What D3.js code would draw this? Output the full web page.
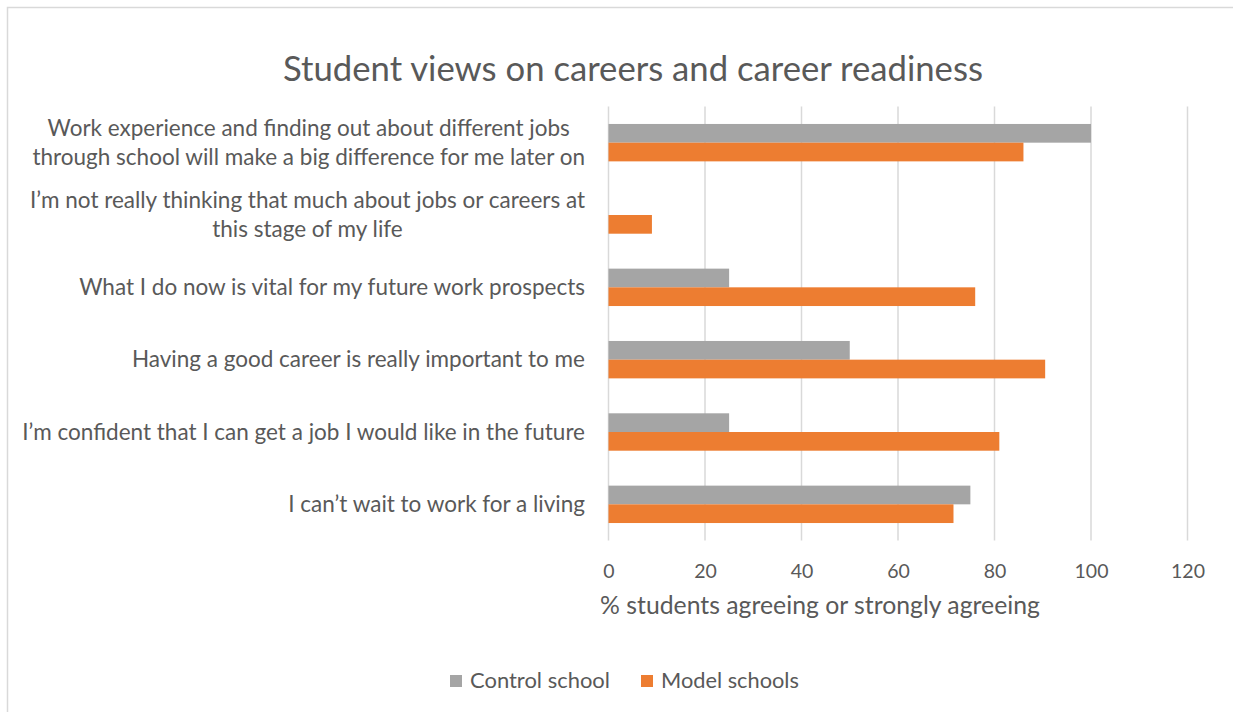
<!DOCTYPE html>
<html>
<head>
<meta charset="utf-8">
<script src="https://cdn.jsdelivr.net/npm/d3@7"></script>
<style>
  html, body { margin: 0; padding: 0; background: #fff; }
  svg { display: block; }
  text { font-family: Lato, "Open Sans", sans-serif; fill: #595959; }
</style>
</head>
<body>
<svg id="chart" width="1233" height="712"></svg>
<script>
// Survey statements (top to bottom); "\n" marks a line break in the label
const categories = [
  "Work experience and finding out about different jobs\nthrough school will make a big difference for me later on",
  "I’m not really thinking that much about jobs or careers at\nthis stage of my life",
  "What I do now is vital for my future work prospects",
  "Having a good career is really important to me",
  "I’m confident that I can get a job I would like in the future",
  "I can’t wait to work for a living"
];
const seriesNames = ["Control school", "Model schools"];
const controlValues = [100, 0, 25, 50, 25, 75];
const modelValues = [86, 9, 76, 90.5, 81, 71.5];
const xTicks = [0, 20, 40, 60, 80, 100, 120];
const colors = ["#a5a5a5", "#ed7d31"];

const titleText = "Student views on careers and career readiness";
const axisTitleText = "% students agreeing or strongly agreeing";

const svg = d3.select("#chart");

// Fit a text element's font size so its rendered width equals a target width
function fitWidth(sel, target) {
  const node = sel.node();
  const fs = parseFloat(sel.attr("font-size"));
  const w = node.getComputedTextLength();
  sel.attr("font-size", (fs * target / w).toFixed(2));
}

// Chart frame
svg.append("rect")
  .attr("x", 7.5).attr("y", 7.5)
  .attr("width", 1260).attr("height", 720)
  .attr("fill", "none").attr("stroke", "#d9d9d9").attr("stroke-width", 1.5);

const plot = { left: 608.5, right: 1187.5, top: 106.5, bottom: 540.5 };

const x = d3.scaleLinear().domain([0, 120]).range([plot.left, plot.right]);
const y = d3.scaleBand().domain(categories).range([plot.top, plot.bottom])
  .paddingInner(0.483).paddingOuter(0.2415);
const ySeries = d3.scaleBand().domain(seriesNames).range([0, y.bandwidth()]);

// Vertical gridlines
svg.append("g").selectAll("line").data(xTicks).join("line")
  .attr("x1", d => x(d)).attr("x2", d => x(d))
  .attr("y1", plot.top).attr("y2", plot.bottom)
  .attr("stroke", "#d9d9d9").attr("stroke-width", 1.5);

// Bars
const rows = categories.map((c, i) => ({ cat: c, vals: [controlValues[i], modelValues[i]] }));
const groups = svg.append("g").selectAll("g").data(rows).join("g")
  .attr("transform", d => `translate(0,${y(d.cat)})`);
groups.selectAll("rect")
  .data(d => d.vals.map((v, j) => ({ v, s: seriesNames[j], j })))
  .join("rect")
  .attr("x", x(0))
  .attr("y", d => ySeries(d.s))
  .attr("width", d => x(d.v) - x(0))
  .attr("height", ySeries.bandwidth())
  .attr("fill", d => colors[d.j])
  .attr("display", d => d.v > 0 ? null : "none");

// X axis tick labels
const xAxis = d3.axisBottom(x).tickValues(xTicks).tickSize(0).tickPadding(0);
const xg = svg.append("g").attr("transform", `translate(0,${plot.bottom})`).call(xAxis);
xg.select(".domain").remove();
xg.selectAll("text")
  .attr("y", 31).attr("dy", "0.35em")
  .attr("font-size", 19.5).attr("font-family", null)
  .style("fill", "#595959");

// Y axis category labels (multi-line, centred within a right-aligned block)
const labelRight = 585;
const lineGap = 29;
const labelSize = 19;
const labelG = svg.append("g");
const labels = labelG.selectAll("text").data(categories).join("text")
  .attr("font-size", labelSize)
  .attr("text-anchor", "middle")
  .attr("dominant-baseline", "central");
labels.each(function (c) {
  const t = d3.select(this);
  const lines = c.split("\n");
  const cy = y(c) + y.bandwidth() / 2 - 1.5;
  lines.forEach((ln, k) => {
    t.append("tspan").text(ln)
      .attr("y", cy + (k - (lines.length - 1) / 2) * lineGap);
  });
});
// Scale the label font so the longest line spans the reference width
const probe = labelG.append("text").attr("font-size", labelSize).text(categories[4]);
fitWidth(probe, 563);
const fittedSize = probe.attr("font-size");
probe.remove();
labels.attr("font-size", fittedSize);
labels.each(function () {
  const t = d3.select(this);
  let maxW = 0;
  t.selectAll("tspan").each(function () {
    maxW = Math.max(maxW, this.getComputedTextLength());
  });
  t.selectAll("tspan").attr("x", labelRight - maxW / 2);
});

// Chart title
const title = svg.append("text")
  .attr("x", 633).attr("y", 67)
  .attr("text-anchor", "middle").attr("dominant-baseline", "central")
  .attr("font-size", 32).text(titleText);
fitWidth(title, 700);

// Axis title
const axisTitle = svg.append("text")
  .attr("x", 820).attr("y", 604)
  .attr("text-anchor", "middle").attr("dominant-baseline", "central")
  .attr("font-size", 22).text(axisTitleText);
fitWidth(axisTitle, 440);

// Legend
const legendItems = [
  { name: seriesNames[0], color: colors[0], x: 450 },
  { name: seriesNames[1], color: colors[1], x: 641 }
];
const lg = svg.append("g").selectAll("g").data(legendItems).join("g")
  .attr("transform", d => `translate(${d.x},681)`);
lg.append("rect").attr("x", 0).attr("y", -6).attr("width", 12).attr("height", 12)
  .attr("fill", d => d.color);
lg.append("text").attr("x", 20).attr("y", -1.5).attr("dominant-baseline", "central")
  .attr("font-size", 20).text(d => d.name)
  .each(function () { fitWidth(d3.select(this), this.textContent === seriesNames[0] ? 140 : 138); });
</script>
</body>
</html>
